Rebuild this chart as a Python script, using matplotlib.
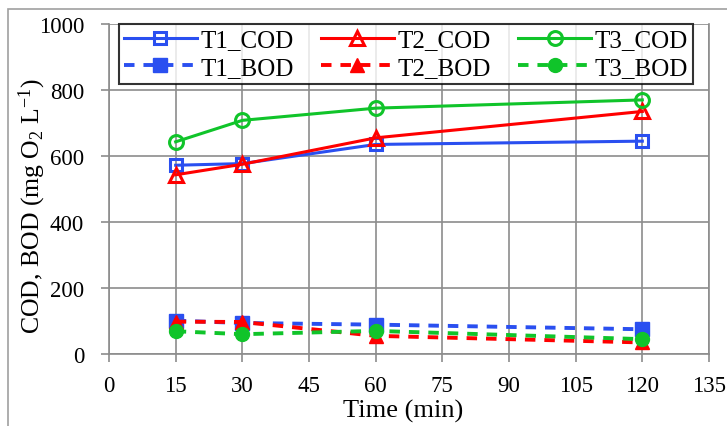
import matplotlib.pyplot as plt
from matplotlib.patches import Rectangle

plt.rcParams['font.family'] = ['Liberation Serif', 'DejaVu Serif']
plt.rcParams['mathtext.fontset'] = 'custom'
plt.rcParams['mathtext.rm'] = 'Liberation Serif'
plt.rcParams['mathtext.it'] = 'Liberation Serif'

# datos
tiempo = [15, 30, 60, 120]
t1_cod = [572, 577, 635, 645]
t2_cod = [543, 575, 655, 735]
t3_cod = [643, 708, 745, 770]
t1_bod = [101, 94, 89, 75]
t2_bod = [98, 97, 55, 35]
t3_bod = [69, 60, 70, 45]

azul = '#2a4ff0'
rojo = '#ff0000'
verde = '#10c42a'
gris = '#8c8c8c'

fig = plt.figure(figsize=(7.27, 4.27), dpi=100)
ax = fig.add_axes([109/727, 1 - 355/427, 600/727, 330/427])

# marco de la figura
fig.patches.append(Rectangle((8/727, -0.05), 1.0, 1 - 10/427 + 0.05,
                             transform=fig.transFigure, fill=False,
                             edgecolor='#a0a0a0', lw=1.2))

ax.plot(tiempo, t1_cod, '-', color=azul, lw=2.2, marker='s', ms=9,
        mfc='none', mew=2.2, label='T1_COD')
ax.plot(tiempo, t1_bod, '--', color=azul, lw=2.8, marker='s', ms=10,
        dashes=(2.7, 2.3), label='T1_BOD')
ax.plot(tiempo, t2_cod, '-', color=rojo, lw=2.2, marker='^', ms=10,
        mfc='none', mew=2.2, label='T2_COD')
ax.plot(tiempo, t2_bod, '--', color=rojo, lw=2.8, marker='^', ms=10,
        dashes=(2.7, 2.3), label='T2_BOD')
ax.plot(tiempo, t3_cod, '-', color=verde, lw=2.2, marker='o', ms=10,
        mfc='none', mew=2.2, label='T3_COD')
ax.plot(tiempo, t3_bod, '--', color=verde, lw=2.8, marker='o', ms=10,
        dashes=(2.7, 2.3), label='T3_BOD')

ax.set_xlim(0, 135)
ax.set_ylim(0, 1000)
ax.set_xticks(range(0, 136, 15))
ax.set_yticks(range(0, 1001, 200))
ax.grid(True, color=gris, lw=1.2)
ax.set_axisbelow(True)
for s in ax.spines.values():
    s.set_color(gris)
    s.set_linewidth(1.2)
ax.spines['top'].set_visible(False)
ax.tick_params(colors=gris, labelcolor='black', labelsize=16.5, width=1.2, length=6)
ax.tick_params(axis='x', pad=9)
ax.tick_params(axis='y', pad=12)

ax.set_xlabel('Time (min)', fontsize=19)
ax.xaxis.set_label_coords(0.49, -0.135)
ax.set_ylabel('COD, BOD (mg O$_2$ L$^{-1}$)', fontsize=18.5, va='center')
ax.yaxis.set_label_coords(-0.127, 0.45)

leg = ax.legend(ncol=3, loc='upper center', bbox_to_anchor=(0.495, 1.0),
                fontsize=18, frameon=True, fancybox=False, handlelength=2.9,
                columnspacing=1.1, borderpad=0.2, labelspacing=0.2,
                handletextpad=0.15, borderaxespad=0)
leg.get_frame().set_edgecolor('black')
leg.get_frame().set_linewidth(1.5)

plt.savefig('out.png', dpi=100)
